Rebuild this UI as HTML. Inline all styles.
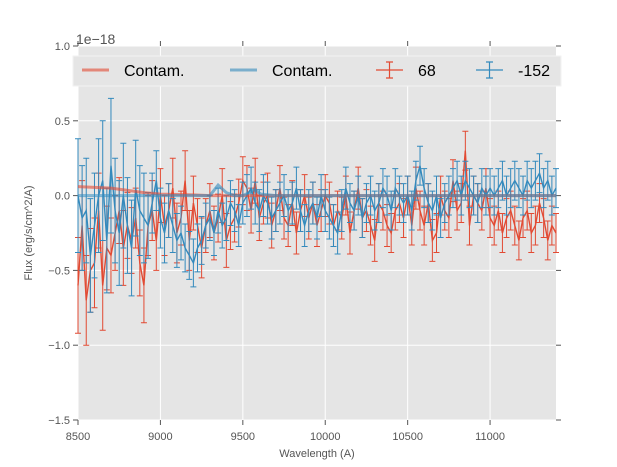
<!DOCTYPE html>
<html><head><meta charset="utf-8">
<style>
html,body{margin:0;padding:0;background:#fff;}
svg{display:block;font-family:"Liberation Sans","DejaVu Sans",sans-serif;}
</style></head>
<body>
<svg id="chart" width="617" height="467" viewBox="0 0 617 467"></svg>
<script>
const waveStart = 8500, waveStep = 25;
const flux68 = [-0.6,-0.2,-0.7,-0.5,-0.45,-0.1,-0.6,-0.35,-0.4,-0.25,-0.1,-0.35,-0.2,-0.3,-0.15,-0.45,-0.6,
-0.2,-0.1,-0.3,0.0,-0.2,-0.1,0.05,-0.25,-0.15,0.1,-0.3,-0.05,-0.2,-0.35,-0.2,-0.1,-0.25,-0.15,0.0,-0.3,-0.2,-0.15,-0.05,0.1,
0.05,-0.1,0.1,-0.15,-0.05,0.0,-0.2,-0.1,0.05,-0.15,-0.2,-0.05,-0.25,-0.1,0.0,-0.15,-0.05,-0.2,-0.1,0.0,
-0.05,-0.2,-0.1,-0.15,0.0,-0.25,-0.1,0.05,-0.15,-0.1,-0.2,-0.3,-0.05,-0.1,-0.2,-0.25,-0.1,-0.05,-0.15,0.0,
-0.2,0.05,-0.1,-0.2,-0.05,-0.3,-0.25,0.0,-0.1,-0.15,0.1,-0.1,-0.05,0.3,-0.2,0.0,-0.05,-0.1,0.05,-0.15,
-0.2,-0.1,-0.25,-0.15,-0.1,-0.2,-0.3,-0.15,-0.1,-0.25,-0.2,-0.05,-0.15,-0.3,-0.2,-0.25];
const err68 = [0.32,0.3,0.3,0.28,0.3,0.25,0.3,0.28,0.25,0.25,0.22,0.25,0.22,0.22,0.2,0.22,0.25,
0.2,0.2,0.2,0.18,0.2,0.18,0.2,0.2,0.18,0.2,0.2,0.18,0.18,0.2,0.18,0.18,0.18,0.16,0.18,0.18,0.16,0.16,0.16,0.16,
0.15,0.15,0.15,0.15,0.14,0.15,0.15,0.14,0.15,0.14,0.14,0.15,0.14,0.14,0.14,0.14,0.14,0.14,0.14,0.14,
0.14,0.14,0.13,0.14,0.13,0.14,0.13,0.14,0.13,0.14,0.13,0.14,0.13,0.13,0.14,0.13,0.13,0.13,0.13,0.13,
0.13,0.14,0.13,0.13,0.13,0.14,0.13,0.13,0.13,0.13,0.14,0.13,0.13,0.13,0.13,0.13,0.13,0.13,0.13,0.13,
0.13,0.13,0.13,0.13,0.13,0.13,0.13,0.13,0.13,0.13,0.13,0.13,0.13,0.13,0.13,0.13];
const flux152 = [0.0,-0.15,-0.1,-0.4,-0.2,0.0,0.1,-0.3,0.2,-0.1,-0.25,0.0,-0.2,-0.35,0.05,-0.1,-0.15,
-0.2,-0.05,0.1,-0.15,-0.25,-0.1,-0.2,-0.3,-0.25,-0.35,-0.4,-0.45,-0.35,-0.3,-0.2,-0.15,-0.25,-0.1,-0.2,-0.15,-0.05,-0.1,-0.2,-0.05,
0.0,0.05,-0.05,-0.1,0.0,-0.05,-0.15,-0.1,-0.05,0.0,-0.1,-0.05,0.05,-0.1,-0.2,-0.1,-0.05,-0.15,0.0,-0.1,
-0.15,-0.2,-0.25,-0.1,0.05,-0.05,-0.1,0.0,-0.15,-0.05,0.0,-0.1,-0.05,0.05,0.0,-0.1,0.05,0.0,-0.05,0.0,
-0.1,0.1,0.2,0.05,-0.05,-0.1,0.0,-0.15,-0.05,0.0,0.05,0.1,0.0,0.1,0.05,0.0,-0.05,0.05,0.0,0.05,
0.0,0.05,0.1,0.0,0.05,0.1,0.05,0.0,0.1,0.05,0.1,0.15,0.05,0.1,0.0,0.05];
const err152 = [0.38,0.35,0.35,0.38,0.35,0.38,0.4,0.35,0.45,0.35,0.35,0.35,0.32,0.32,0.32,0.3,0.3,
0.22,0.2,0.2,0.2,0.2,0.18,0.18,0.18,0.18,0.16,0.16,0.16,0.16,0.16,0.15,0.15,0.15,0.15,0.15,0.15,0.15,0.14,0.14,0.14,
0.14,0.14,0.14,0.14,0.14,0.14,0.14,0.14,0.14,0.14,0.14,0.14,0.14,0.14,0.14,0.14,0.14,0.14,0.14,0.14,
0.14,0.14,0.14,0.14,0.14,0.13,0.13,0.13,0.13,0.13,0.13,0.13,0.13,0.13,0.13,0.13,0.13,0.13,0.13,0.13,
0.13,0.13,0.13,0.13,0.13,0.13,0.13,0.13,0.13,0.13,0.13,0.13,0.13,0.13,0.13,0.13,0.13,0.13,0.13,0.13,
0.13,0.13,0.13,0.13,0.13,0.13,0.13,0.13,0.13,0.13,0.13,0.13,0.13,0.13,0.13,0.13];
const contamWave = [8500,8700,8900,9000,9200,9300,9350,9400,9450,9500,9540,9570,9610,9700,10000,11400];
const contam68 = [0.06,0.05,0.02,0.01,0.005,0.0,0.0,0.0,0.0,0.0,0.0,0.0,0.0,0.0,0.0,0.0];
const contam152 = [0.0,0.0,0.0,0.0,0.0,0.0,0.07,0.02,0.0,0.0,0.02,0.04,0.01,0.0,0.0,0.0];
const xTicks = [8500,9000,9500,10000,10500,11000];
const yTicks = [1.0,0.5,0.0,-0.5,-1.0,-1.5];
const yTickLabels = ["1.0","0.5","0.0","\u22120.5","\u22121.0","\u22121.5"];

const L=78,R=556,T=46,B=420;
const xMin=8500,xMax=11400,yMin=-1.5,yMax=1.0;
const sx=v=>L+(v-xMin)/(xMax-xMin)*(R-L);
const sy=v=>B-(v-yMin)/(yMax-yMin)*(B-T);
const NS="http://www.w3.org/2000/svg";
const svg=document.getElementById('chart');
function mk(tag,attrs,parent){const e=document.createElementNS(NS,tag);for(const k in attrs)e.setAttribute(k,attrs[k]);(parent||svg).appendChild(e);return e;}

let e=mk('rect',{x:L,y:T,width:R-L,height:B-T,fill:'#e5e5e5'});


const grid=mk('g',{stroke:'#fff','stroke-width':1});


xTicks.forEach(t=>mk('line',{x1:sx(t),x2:sx(t),y1:T,y2:B},grid));
yTicks.forEach(t=>mk('line',{x1:L,x2:R,y1:sy(t),y2:sy(t)},grid));

const ax=mk('g',{stroke:'#555','stroke-width':1});


xTicks.forEach(t=>{mk('line',{x1:sx(t),x2:sx(t),y1:B,y2:B+5},ax);mk('line',{x1:sx(t),x2:sx(t),y1:T-5,y2:T},ax);});
yTicks.forEach(t=>{mk('line',{x1:L-5,x2:L,y1:sy(t),y2:sy(t)},ax);mk('line',{x1:R,x2:R+5,y1:sy(t),y2:sy(t)},ax);});

xTicks.forEach(t=>{const tx=mk('text',{x:sx(t),y:B+20,'text-anchor':'middle','font-size':11,fill:'#555'});tx.textContent=t;

});
yTicks.forEach((t,i)=>{const tx=mk('text',{x:L-8,y:sy(t)+4,'text-anchor':'end','font-size':11,fill:'#555'});tx.textContent=yTickLabels[i];

});

function series(vals,errs,color,name){
  const g=mk('g',{stroke:color,fill:'none','stroke-width':1.2});
  
  
  let d='';
  vals.forEach((v,i)=>{const x=sx(waveStart+i*waveStep);
    const y1=sy(v+errs[i]),y2=sy(v-errs[i]);
    mk('path',{d:`M${x},${y1}V${y2}M${x-3},${y1}H${x+3}M${x-3},${y2}H${x+3}`,'stroke-width':1},g);
    d+=(i?'L':'M')+x.toFixed(1)+','+sy(v).toFixed(1);});
  mk('path',{d:d,'stroke-width':1.4},g);
}
series(flux68,err68,'#E24A33','series-68');
series(flux152,err152,'#348ABD','series-minus-152');

function contam(vals,color,name){
  let d='';vals.forEach((v,i)=>{d+=(i?'L':'M')+sx(contamWave[i]).toFixed(1)+','+sy(v).toFixed(1);});
  const p=mk('path',{d:d,stroke:color,'stroke-width':3,fill:'none',opacity:0.6});
  
  
}
contam(contam68,'#E24A33','contam-68-line');
contam(contam152,'#348ABD','contam-152-line');
</script>
<svg width="0" height="0" style="position:absolute"></svg>
<script>
(function(){
const NS="http://www.w3.org/2000/svg";const svg=document.getElementById('chart');
function mk(tag,attrs,parent){const e=document.createElementNS(NS,tag);for(const k in attrs)e.setAttribute(k,attrs[k]);(parent||svg).appendChild(e);return e;}
const lg=mk('g',{});


mk('rect',{x:73,y:56,width:488,height:30,fill:'#e5e5e5',stroke:'#f2f2f2','stroke-width':1},lg);
const items=[{x:82,c:'#E24A33',t:'Contam.',err:false,n:'legend-contam-68'},{x:230,c:'#348ABD',t:'Contam.',err:false,n:'legend-contam-152'},
{x:376,c:'#E24A33',t:'68',err:true,n:'legend-68'},{x:476,c:'#348ABD',t:'-152',err:true,n:'legend-minus-152'}];
items.forEach(it=>{const g=mk('g',{},lg);
 
 
 if(it.err){mk('path',{d:`M${it.x},70H${it.x+27}M${it.x+13.5},62V78M${it.x+10},62H${it.x+17}M${it.x+10},78H${it.x+17}`,stroke:it.c,'stroke-width':1.2,fill:'none'},g);}
 else mk('line',{x1:it.x,x2:it.x+27,y1:70,y2:70,stroke:it.c,'stroke-width':3,opacity:0.6},g);
 const t=mk('text',{x:it.x+42,y:76,'font-size':16,fill:'#000'},g);t.textContent=it.t;});
})();
</script>
<text></text>
<script>
(function(){
const NS="http://www.w3.org/2000/svg";const svg=document.getElementById('chart');
let t=document.createElementNS(NS,'text');
t.setAttribute('x',76);t.setAttribute('y',44);t.setAttribute('font-size',14);t.setAttribute('fill','#555');
t.textContent='1e\u221218';


svg.appendChild(t);
t=document.createElementNS(NS,'text');
t.setAttribute('x',317);t.setAttribute('y',457);t.setAttribute('font-size',11);t.setAttribute('fill','#555');t.setAttribute('text-anchor','middle');
t.textContent='Wavelength (A)';


svg.appendChild(t);
t=document.createElementNS(NS,'text');
t.setAttribute('font-size',11);t.setAttribute('fill','#555');t.setAttribute('text-anchor','middle');
t.setAttribute('transform','translate(32,233) rotate(-90)');
t.textContent='Flux (erg/s/cm^2/A)';


svg.appendChild(t);
})();
</script>
</body></html>
